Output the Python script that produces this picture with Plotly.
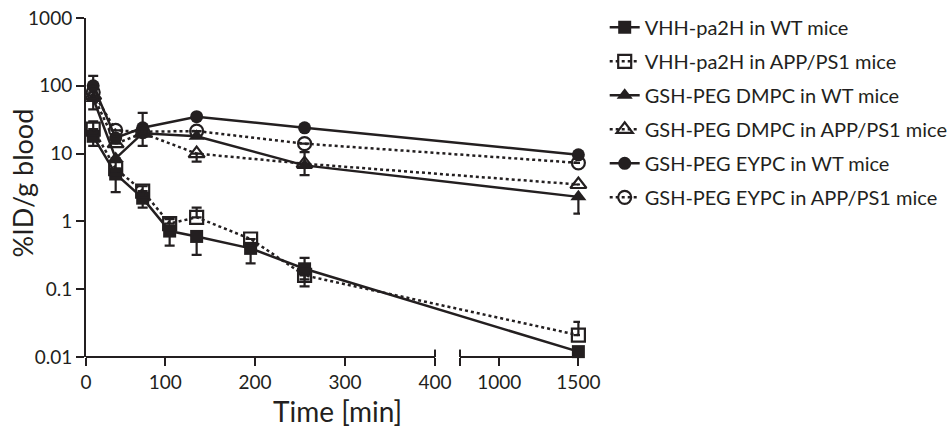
import plotly.graph_objects as go

# ---------------- data ----------------
T_VHH = [20, 45, 75, 105, 135, 195, 255, 1500]
VHH_WT = [18, 5.0, 2.2, 0.72, 0.6, 0.4, 0.2, 0.012]
VHH_WT_PLUS = [None, None, None, None, None, None, 0.09, None]
VHH_WT_MINUS = [5, 2.3, 0.6, 0.28, 0.28, 0.16, 0.06, None]
VHH_APP = [23, 6.0, 2.8, 0.93, 1.15, 0.55, 0.16, 0.021]
VHH_APP_PLUS = [7, None, 0.5, 0.15, 0.45, None, None, 0.012]
VHH_APP_MINUS = [None, None, None, None, None, None, 0.05, None]

T_LIPO = [20, 45, 75, 135, 255, 1500]
DMPC_WT = [65, 8.5, 20, 18, 6.7, 2.3]
DMPC_WT_PLUS = [None, None, 20, None, 3.8, None]
DMPC_WT_MINUS = [20, 3, 7, None, 1.9, 1.0]
DMPC_APP = [72, 14, 20, 10, 7.1, 3.5]
DMPC_APP_PLUS = [None, None, None, None, None, None]
DMPC_APP_MINUS = [None, None, None, 2.4, None, None]
EYPC_WT = [100, 17, 24, 35, 24, 9.6]
EYPC_WT_PLUS = [40, None, None, None, None, None]
EYPC_WT_MINUS = [None, None, None, None, None, None]
EYPC_APP = [80, 22, 21, 21.5, 14, 7.3]
EYPC_APP_PLUS = [None, None, None, None, None, None]
EYPC_APP_MINUS = [None, None, None, None, None, None]

SERIES_NAMES = [
    "VHH-pa2H in WT mice",
    "VHH-pa2H in APP/PS1 mice",
    "GSH-PEG DMPC in WT mice",
    "GSH-PEG DMPC in APP/PS1 mice",
    "GSH-PEG EYPC in WT mice",
    "GSH-PEG EYPC in APP/PS1 mice",
]

X_TICK_VALS = [0, 100, 200, 300, 400, 1000, 1500]
X_TICK_TEXT = ["0", "100", "200", "300", "400", "1000", "1500"]
Y_TICK_VALS = [0.01, 0.1, 1, 10, 100, 1000]
Y_TICK_TEXT = ["0.01", "0.1", "1", "10", "100", "1000"]
X_TITLE = "Time [min]"
Y_TITLE = "%ID/g blood"

# ---------------- broken x axis scale ----------------
AX_START = 12          # where the first segment begins (labelled "0")
BREAK_AT = 400
SEG2_START = 751
SEG2_END = 1500
GAP = 27.8
SEG2_SCALE = 0.1757


def brk(t):
    if t <= BREAK_AT:
        return t
    return BREAK_AT + GAP + (t - SEG2_START) * SEG2_SCALE


def tick_pos(v):
    return AX_START if v == 0 else brk(v)


INK = "#231f20"
FONT = "Lato"

fig = go.Figure()

specs = [
    (T_VHH, VHH_WT, VHH_WT_PLUS, VHH_WT_MINUS, "square", "solid"),
    (T_VHH, VHH_APP, VHH_APP_PLUS, VHH_APP_MINUS, "square-open", "dot"),
    (T_LIPO, DMPC_WT, DMPC_WT_PLUS, DMPC_WT_MINUS, "triangle-up", "solid"),
    (T_LIPO, DMPC_APP, DMPC_APP_PLUS, DMPC_APP_MINUS, "triangle-up-open", "dot"),
    (T_LIPO, EYPC_WT, EYPC_WT_PLUS, EYPC_WT_MINUS, "circle", "solid"),
    (T_LIPO, EYPC_APP, EYPC_APP_PLUS, EYPC_APP_MINUS, "circle-open", "dot"),
]

for i, (t, y, ep, em, sym, dash) in enumerate(specs):
    is_open = sym.endswith("open")
    fig.add_trace(go.Scatter(
        x=[brk(v) for v in t], y=y,
        name=SERIES_NAMES[i], legendgroup=str(i),
        mode="lines+markers",
        line=dict(color=INK, width=2.5, dash=dash),
        marker=dict(symbol=sym, size=13 if "triangle" not in sym else 14,
                    color=INK,
                    line=dict(color=INK, width=2.2 if is_open else 0)),
        error_y=dict(type="data", symmetric=False, array=ep, arrayminus=em,
                     color=INK, thickness=2.2, width=5),
        cliponaxis=False,
    ))

PLOT_L = 86
PLOT_W = 494
W, H = 952, 427
x_range = [AX_START, AX_START + PLOT_W / 0.8995]

shapes = [
    dict(type="line", xref="x", yref="paper", x0=AX_START, x1=BREAK_AT, y0=0, y1=0,
         line=dict(color=INK, width=2)),
    dict(type="line", xref="x", yref="paper", x0=brk(SEG2_START), x1=brk(SEG2_END) + 1,
         y0=0, y1=0, line=dict(color=INK, width=2)),
    dict(type="line", xref="x", yref="paper", x0=BREAK_AT, x1=BREAK_AT, y0=0, y1=0.022,
         line=dict(color=INK, width=2)),
    dict(type="line", xref="x", yref="paper", x0=brk(SEG2_START), x1=brk(SEG2_START),
         y0=0, y1=0.022, line=dict(color=INK, width=2)),
]

annotations = [
    dict(text=X_TITLE, xref="paper", yref="paper", x=0.51, y=-0.159,
         xanchor="center", yanchor="middle", showarrow=False,
         font=dict(size=28, family=FONT, color=INK)),
    dict(text=Y_TITLE, xref="paper", yref="paper", x=-0.1296, y=0.515,
         xanchor="center", yanchor="middle", showarrow=False, textangle=-90,
         font=dict(size=27, family=FONT, color=INK)),
]

fig.update_layout(
    width=W, height=H,
    margin=dict(l=PLOT_L, r=W - PLOT_L - PLOT_W, t=17.5, b=70, autoexpand=False),
    paper_bgcolor="white", plot_bgcolor="white",
    font=dict(family=FONT, color=INK, size=19),
    showlegend=True,
    legend=dict(x=1.05, xanchor="left", y=1.03, yanchor="top",
                font=dict(family=FONT, size=20, color=INK),
                tracegroupgap=5, itemwidth=30, bgcolor="rgba(0,0,0,0)",
                maxheight=400),
    shapes=shapes,
    annotations=annotations,
    xaxis=dict(range=x_range, showgrid=False, zeroline=False, showline=False,
               automargin=False, ticklabeloverflow="allow",
               tickmode="array",
               tickvals=[tick_pos(v) for v in X_TICK_VALS] + [brk(SEG2_START)],
               ticktext=X_TICK_TEXT + [""],
               ticks="outside", ticklen=8, tickwidth=2, tickcolor=INK,
               tickfont=dict(size=19, family=FONT, color=INK)),
    yaxis=dict(type="log", range=[-2, 3], showgrid=False, zeroline=False,
               automargin=False, ticklabeloverflow="allow",
               showline=True, linewidth=2, linecolor=INK,
               tickmode="array", tickvals=Y_TICK_VALS, ticktext=Y_TICK_TEXT,
               ticks="outside", ticklen=8, tickwidth=2, tickcolor=INK,
               tickfont=dict(size=19, family=FONT, color=INK)),
)

fig.write_html("out.html", config={"displayModeBar": False},
               post_script="document.body.style.margin='0';")
